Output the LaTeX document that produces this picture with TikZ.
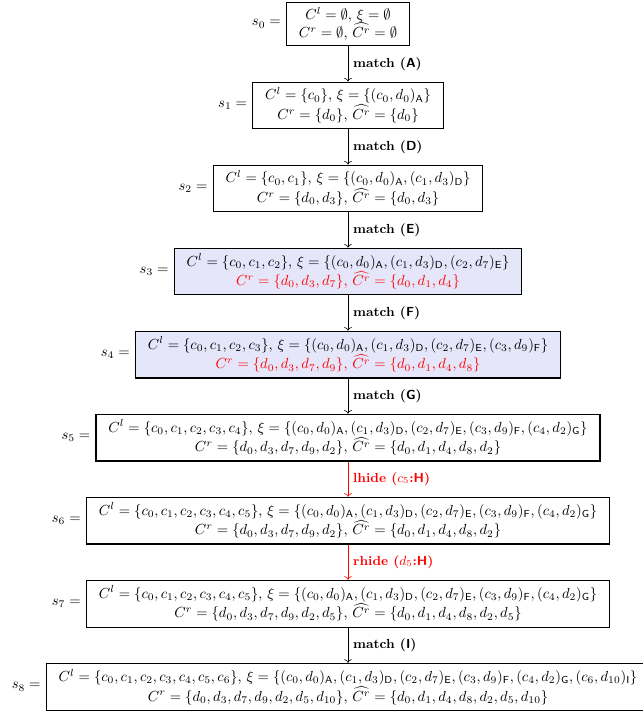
\documentclass[tikz,border=0pt]{standalone}
\usepackage{amsmath, amssymb}
\usepackage{xcolor}
\usetikzlibrary{arrows.meta, positioning}
\definecolor{cFill}{HTML}{E6E6FA}
\definecolor{cHide}{HTML}{FF0000}
\newcommand{\rl}[1]{_{\mathsf{#1}}}
\newcommand{\Crh}{\widehat{C^r}}

\begin{document}
\begin{tikzpicture}[
    node distance=24.1pt,
    state/.style={draw, thick, align=center, inner xsep=8.5pt, inner ysep=3.75pt,
                  label={[label distance=0pt]left:$#1 =$}},
    hl/.style={fill=cFill},
    arr/.style={->, draw=#1},
    arr/.default=black,
    lbl/.style={right, font=\small\bfseries, text=#1},
    lbl/.default=black,
  ]
  \useasboundingbox (-238.5pt,-475pt) rectangle (201.5pt,16.4pt);
  % States
  \node[state=s_0] (s0) {$C^l = \emptyset$, $\xi = \emptyset$\\
    $C^r = \emptyset$, $\Crh = \emptyset$};
  \node[state=s_1, below=of s0] (s1) {$C^l = \{c_0\}$, $\xi = \{(c_0,d_0)\rl{A}\}$\\
    $C^r = \{d_0\}$, $\Crh = \{d_0\}$};
  \node[state=s_2, below=of s1] (s2) {$C^l = \{c_0,c_1\}$, $\xi = \{(c_0,d_0)\rl{A},(c_1,d_3)\rl{D}\}$\\
    $C^r = \{d_0,d_3\}$, $\Crh = \{d_0,d_3\}$};
  \node[state=s_3, hl, below=of s2] (s3) {$C^l = \{c_0,c_1,c_2\}$, $\xi = \{(c_0,d_0)\rl{A},(c_1,d_3)\rl{D},(c_2,d_7)\rl{E}\}$\\
    \textcolor{cHide}{$C^r = \{d_0,d_3,d_7\}$, $\Crh = \{d_0,d_1,d_4\}$}};
  \node[state=s_4, hl, below=of s3] (s4) {$C^l = \{c_0,c_1,c_2,c_3\}$, $\xi = \{(c_0,d_0)\rl{A},(c_1,d_3)\rl{D},(c_2,d_7)\rl{E},(c_3,d_9)\rl{F}\}$\\
    \textcolor{cHide}{$C^r = \{d_0,d_3,d_7,d_9\}$, $\Crh = \{d_0,d_1,d_4,d_8\}$}};
  \node[state=s_5, below=of s4] (s5) {$C^l = \{c_0,c_1,c_2,c_3,c_4\}$, $\xi = \{(c_0,d_0)\rl{A},(c_1,d_3)\rl{D},(c_2,d_7)\rl{E},(c_3,d_9)\rl{F},(c_4,d_2)\rl{G}\}$\\
    $C^r = \{d_0,d_3,d_7,d_9,d_2\}$, $\Crh = \{d_0,d_1,d_4,d_8,d_2\}$};
  \node[state=s_6, below=of s5] (s6) {$C^l = \{c_0,c_1,c_2,c_3,c_4,c_5\}$, $\xi = \{(c_0,d_0)\rl{A},(c_1,d_3)\rl{D},(c_2,d_7)\rl{E},(c_3,d_9)\rl{F},(c_4,d_2)\rl{G}\}$\\
    $C^r = \{d_0,d_3,d_7,d_9,d_2\}$, $\Crh = \{d_0,d_1,d_4,d_8,d_2\}$};
  \node[state=s_7, below=of s6] (s7) {$C^l = \{c_0,c_1,c_2,c_3,c_4,c_5\}$, $\xi = \{(c_0,d_0)\rl{A},(c_1,d_3)\rl{D},(c_2,d_7)\rl{E},(c_3,d_9)\rl{F},(c_4,d_2)\rl{G}\}$\\
    $C^r = \{d_0,d_3,d_7,d_9,d_2,d_5\}$, $\Crh = \{d_0,d_1,d_4,d_8,d_2,d_5\}$};
  \node[state=s_8, below=of s7] (s8) {$C^l = \{c_0,c_1,c_2,c_3,c_4,c_5,c_6\}$, $\xi = \{(c_0,d_0)\rl{A},(c_1,d_3)\rl{D},(c_2,d_7)\rl{E},(c_3,d_9)\rl{F},(c_4,d_2)\rl{G},(c_6,d_{10})\rl{I}\}$\\
    $C^r = \{d_0,d_3,d_7,d_9,d_2,d_5,d_{10}\}$, $\Crh = \{d_0,d_1,d_4,d_8,d_2,d_5,d_{10}\}$};

  % Transitions
  \draw[arr] (s0) -- node[lbl] {match (\textsf{A})} (s1);
  \draw[arr] (s1) -- node[lbl] {match (\textsf{D})} (s2);
  \draw[arr] (s2) -- node[lbl] {match (\textsf{E})} (s3);
  \draw[arr] (s3) -- node[lbl] {match (\textsf{F})} (s4);
  \draw[arr] (s4) -- node[lbl] {match (\textsf{G})} (s5);
  \draw[arr=cHide] (s5) -- node[lbl=cHide] {lhide ($c_5$:\textsf{H})} (s6);
  \draw[arr=cHide] (s6) -- node[lbl=cHide] {rhide ($d_5$:\textsf{H})} (s7);
  \draw[arr] (s7) -- node[lbl] {match (\textsf{I})} (s8);
\end{tikzpicture}
\end{document}
